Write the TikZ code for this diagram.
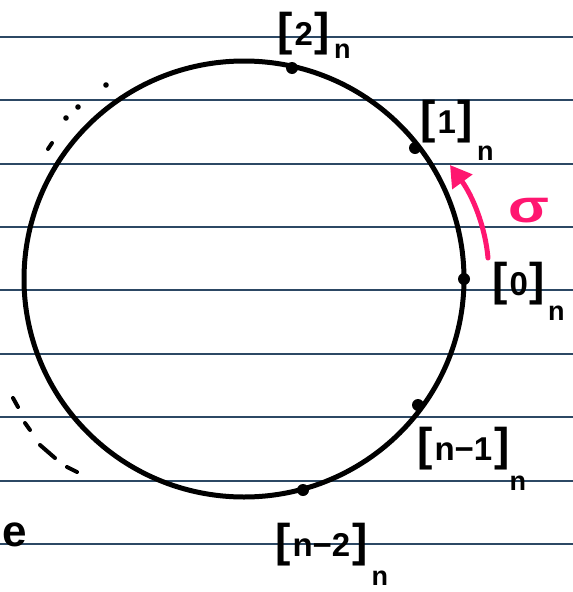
\documentclass[tikz,border=0pt]{standalone}
\usepackage{fontspec}
\setmainfont{Liberation Sans}
\usetikzlibrary{arrows.meta}
\definecolor{ruled}{RGB}{44,72,100}
\definecolor{hotpink}{RGB}{255,22,112}
\newcommand\blab[3]{{\fontsize{46}{46}\selectfont[}\kern2pt#1\kern2pt{\fontsize{46}{46}\selectfont]}\kern#3pt\raisebox{-#2pt}{\fontsize{27}{27}\selectfont n}}
\tikzset{
  lbl/.style={anchor=base west, inner sep=0pt, font=\fontsize{33}{33}\selectfont\bfseries},
  ptdot/.style={circle, fill=black, inner sep=0pt, minimum size=12pt},
  ruleline/.style={draw=ruled, line width=2pt},
  ring/.style={draw=black, line width=5pt},
  pinkarrow/.style={draw=hotpink, line width=5pt, line cap=round, -{Triangle[length=21pt,width=24pt]}},
  dashseg/.style={draw=black, line width=4pt, line cap=round},
}
\begin{document}
\begin{tikzpicture}[x=1pt,y=-1pt]
\useasboundingbox (0,0) rectangle (573,592);
\fill[white] (0,0) rectangle (573,592);
% notebook lines
\foreach \i [evaluate=\i as \yy using 36.7+63.4*\i] in {0,...,8}
  {\draw[ruleline] (0,\yy) -- (573,\yy);}
% circle
\coordinate (ctr) at (244,279);
\draw[ring] (ctr) ellipse [x radius=220, y radius=218];
% points
\node[ptdot] (d2) at (292,68) {};
\node[ptdot] (d1) at (415,148) {};
\node[ptdot] (d0) at (464,279) {};
\node[ptdot] (dn1) at (418,405) {};
\node[ptdot] (dn2) at (303,490) {};
% labels
\node[lbl] (l2) at (277,45) {\blab{2}{13}{4}};
\node[lbl] (l1) at (420,133) {\blab{1}{27}{4}};
\node[lbl] (l0) at (492,295) {\blab{0}{25}{3}};
\node[lbl] (ln1) at (417,460) {\blab{n−1}{30}{0}};
\node[lbl] (ln2) at (275,556) {\blab{n−2}{29}{4}};
% sigma arrow
\coordinate (st) at (488,258);
\coordinate (tp) at (450,165);
\draw[pinkarrow] (st) .. controls (485,225) and (472,195) .. (tp);
\node[anchor=base, inner sep=0pt, text=hotpink, font=\fontsize{46}{46}\selectfont\bfseries] (sg) at (529,222) {\scalebox{1.3}[1]{σ}};
% ellipsis top-left
\fill (106,85) circle (2.8);
\fill (78,107) circle (2.8);
\fill (66,118) circle (2.8);
\draw[dashseg] (48,149) -- (52,143);
% dashes bottom-left
\draw[dashseg] (13,398) -- (18,407);
\draw[dashseg] (25,423) -- (30,430);
\draw[dashseg] (40,445) -- (55,458);
\draw[dashseg] (67,467) -- (77,472);
% cut-off text
\node[anchor=base east, inner sep=0pt, font=\fontsize{44}{44}\selectfont\bfseries] (se) at (27,546) {se};
\end{tikzpicture}
\end{document}
